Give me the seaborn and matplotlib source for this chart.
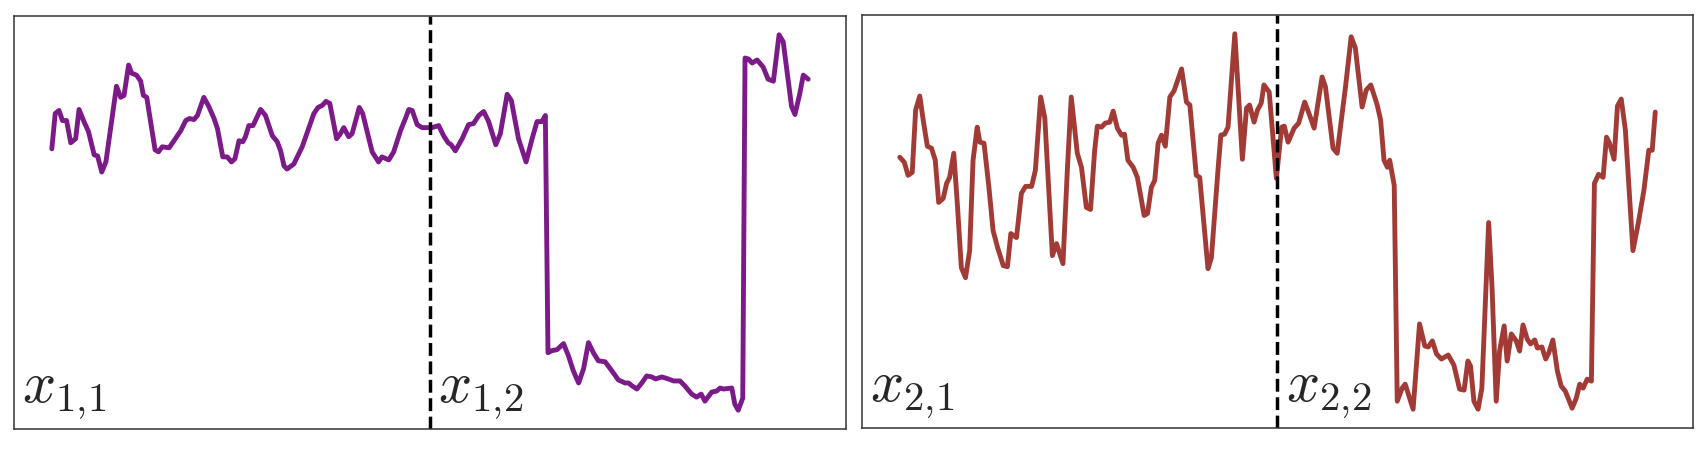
import numpy as np
import pandas as pd
import matplotlib
matplotlib.use("Agg")
import matplotlib.pyplot as plt
import seaborn as sns

# series 1: time / value (x_{1,1} | x_{1,2})
t1 = [0.0, 0.9, 1.9, 2.8, 3.9, 5.0, 6.3, 7.2, 8.5, 9.7, 11.2, 12.1, 13.2, 14.3,
      17.1, 18.2, 19.1, 20.3, 21.1, 22.4, 23.5, 24.2, 25.1, 27.3, 28.2, 29.2,
      31.0, 32.3, 34.1, 35.4, 36.4, 37.6, 38.5, 40.2, 41.5, 42.9, 43.8, 45.2,
      46.4, 47.5, 48.4, 49.5, 50.5, 51.2, 52.1, 53.2, 55.2, 56.5, 58.3, 59.6,
      60.5, 61.4, 62.2, 64.0, 66.2, 69.3, 70.4, 71.5, 72.5, 73.5, 75.3, 76.3,
      77.2, 78.5, 79.4, 81.3, 82.2, 84.7, 86.4, 87.3, 89.1, 90.4, 92.2, 93.5,
      94.4, 95.3, 96.6, 97.9, 99.6, 100.5, 102.3, 103.6, 104.8, 105.6, 106.7,
      108.5, 110.2, 111.5, 112.9, 114.2, 115.5, 117.4, 118.6, 120.4, 121.5,
      123.4, 125.4, 127.0, 128.3, 129.6, 130.5, 131.2, 132.2, 133.6, 135.3,
      136.6, 137.9, 139.3, 140.6, 141.9, 143.2, 144.5, 146.3, 148.1, 149.8,
      151.6, 152.5, 153.5, 154.7, 156.0, 157.3, 158.6, 159.7, 161.3, 163.0,
      164.4, 166.1, 167.4, 169.2, 170.5, 171.7, 172.7, 174.5, 175.8, 176.7,
      177.6, 179.8, 180.6, 181.5, 182.7, 183.3, 184.2, 185.2, 186.5, 188.1,
      189.4, 190.8, 192.3, 193.4, 195.6, 196.5, 197.8, 198.7, 200.0]
v1 = [0.80, 1.15, 1.18, 1.08, 1.08, 0.86, 0.90, 1.19, 1.07, 0.97, 0.74, 0.73,
      0.57, 0.67, 1.42, 1.31, 1.33, 1.63, 1.55, 1.53, 1.47, 1.33, 1.31, 0.79,
      0.77, 0.82, 0.81, 0.88, 0.98, 1.08, 1.10, 1.09, 1.13, 1.31, 1.22, 1.10,
      1.00, 0.72, 0.72, 0.67, 0.70, 0.88, 0.87, 0.92, 1.03, 1.03, 1.19, 1.13,
      0.93, 0.87, 0.78, 0.63, 0.60, 0.65, 0.82, 1.15, 1.21, 1.23, 1.27, 1.25,
      0.90, 0.95, 1.01, 0.92, 0.95, 1.21, 1.15, 0.77, 0.67, 0.72, 0.69, 0.77,
      0.98, 1.10, 1.19, 1.18, 1.04, 1.01, 1.01, 1.01, 1.03, 0.93, 0.86, 0.84,
      0.78, 0.90, 1.04, 1.05, 1.13, 1.17, 1.07, 0.84, 0.95, 1.34, 1.28, 0.90,
      0.67, 0.90, 1.07, 1.07, 1.13, -1.22, -1.20, -1.19, -1.13, -1.25, -1.40,
      -1.52, -1.38, -1.12, -1.22, -1.30, -1.31, -1.40, -1.49, -1.52, -1.52,
      -1.55, -1.58, -1.52, -1.45, -1.46, -1.48, -1.46, -1.48, -1.50, -1.50,
      -1.55, -1.63, -1.66, -1.63, -1.70, -1.61, -1.60, -1.57, -1.58, -1.57,
      -1.73, -1.79, -1.67, 1.70, 1.69, 1.65, 1.68, 1.61, 1.49, 1.47, 1.93,
      1.86, 1.22, 1.14, 1.35, 1.53, 1.49]

# series 2: time / value (x_{2,1} | x_{2,2})
t2 = [0.0, 1.2, 2.2, 3.3, 4.2, 5.3, 6.2, 7.3, 8.4, 9.4, 10.3, 11.5, 12.4, 13.2,
      14.3, 15.3, 16.3, 17.4, 18.5, 19.4, 20.5, 21.2, 22.3, 23.6, 24.7, 25.9,
      27.4, 28.5, 29.4, 30.9, 32.2, 33.3, 34.9, 35.9, 37.3, 38.4, 39.3, 40.4,
      41.5, 43.2, 44.4, 45.4, 47.0, 48.1, 49.4, 50.5, 51.6, 52.3, 53.4, 54.4,
      55.6, 56.5, 57.6, 58.7, 59.5, 60.4, 61.8, 62.9, 64.7, 65.6, 66.6, 67.5,
      68.4, 69.3, 70.3, 71.5, 72.6, 74.6, 75.9, 76.8, 78.5, 79.4, 81.6, 82.5,
      84.3, 85.0, 86.0, 86.9, 88.7, 90.7, 91.8, 92.6, 93.8, 94.7, 95.7, 96.4,
      97.8, 99.7, 101.1, 101.8, 102.8, 104.4, 105.6, 107.2, 108.2, 109.7,
      111.8, 112.7, 114.7, 115.8, 118.0, 119.5, 120.6, 122.4, 123.5, 124.7,
      126.4, 127.3, 128.2, 129.1, 129.7, 130.9, 131.7, 133.0, 133.8, 135.9,
      137.6, 139.0, 139.9, 141.0, 142.1, 143.4, 145.2, 146.7, 148.2, 149.4,
      150.4, 151.1, 152.0, 153.1, 154.1, 155.9, 156.8, 157.9, 158.8, 160.0,
      160.8, 161.9, 163.2, 164.1, 165.0, 166.1, 167.0, 168.1, 168.8, 170.0,
      171.0, 171.8, 172.9, 174.1, 175.1, 176.2, 178.0, 179.1, 180.0, 180.9,
      182.0, 183.1, 183.9, 185.0, 186.2, 187.1, 187.9, 189.1, 190.0, 191.0,
      192.1, 194.1, 195.5, 197.0, 198.3, 199.2, 200.0]
v2 = [0.73, 0.68, 0.55, 0.58, 1.20, 1.34, 1.10, 0.84, 0.82, 0.70, 0.28, 0.32,
      0.47, 0.53, 0.77, 0.23, -0.37, -0.47, -0.20, 0.70, 1.03, 0.88, 0.87,
      0.43, 0.00, -0.17, -0.35, -0.36, -0.03, -0.07, 0.37, 0.44, 0.44, 0.60,
      1.33, 1.12, 0.50, -0.25, -0.13, -0.33, 0.63, 1.33, 0.77, 0.63, 0.23,
      0.21, 0.80, 1.04, 1.03, 1.07, 1.08, 1.19, 1.02, 0.95, 0.96, 0.70, 0.63,
      0.53, 0.15, 0.17, 0.43, 0.50, 0.87, 0.95, 0.84, 1.33, 1.39, 1.61, 1.28,
      1.25, 0.55, 0.53, -0.38, -0.27, 0.63, 0.95, 0.96, 1.03, 1.96, 0.71,
      1.22, 1.25, 1.08, 1.20, 1.27, 1.45, 1.38, 0.52, 1.03, 1.04, 0.88, 1.02,
      1.07, 1.28, 1.18, 1.02, 1.53, 1.43, 0.82, 0.77, 1.43, 1.93, 1.82, 1.23,
      1.40, 1.45, 1.25, 1.10, 0.70, 0.63, 0.70, 0.45, -1.70, -1.57, -1.53,
      -1.78, -0.93, -1.15, -1.16, -1.10, -1.23, -1.28, -1.24, -1.34, -1.58,
      -1.59, -1.30, -1.35, -1.70, -1.78, -1.57, 0.08, -0.57, -1.70, -1.20,
      -0.95, -1.30, -1.03, -1.10, -1.20, -0.94, -1.08, -1.13, -1.09, -1.17,
      -1.16, -1.28, -1.22, -1.09, -1.40, -1.55, -1.60, -1.77, -1.67, -1.53,
      -1.57, -1.48, -1.50, 0.47, 0.56, 0.53, 0.93, 0.87, 0.71, 1.24, 1.31,
      1.00, -0.20, 0.07, 0.40, 0.80, 0.80, 1.18]

split_t = 100
labels1 = [r"$x_{1{,}1}$", r"$x_{1{,}2}$"]
labels2 = [r"$x_{2{,}1}$", r"$x_{2{,}2}$"]
colors = ["#7b1a88", "#a23b35"]

sns.set_style("white")
plt.rcParams["mathtext.fontset"] = "cm"

fig = plt.figure(figsize=(17.06, 4.52), dpi=100)
ax1 = fig.add_axes([14 / 1706, 22 / 452, 832 / 1706, 413 / 452])
ax2 = fig.add_axes([862 / 1706, 23 / 452, 831 / 1706, 413 / 452])

panels = [(ax1, t1, v1, labels1, colors[0]), (ax2, t2, v2, labels2, colors[1])]
for ax, t, v, labels, color in panels:
    df = pd.DataFrame({"t": t, "v": v})
    sns.lineplot(data=df, x="t", y="v", ax=ax, color=color, linewidth=3.5,
                 estimator=None, solid_joinstyle="round",
                 solid_capstyle="round")
    ax.axvline(split_t, color="black", linestyle="--", linewidth=2.5)
    ax.set_xticks([])
    ax.set_yticks([])
    ax.set_xlabel("")
    ax.set_ylabel("")
    for s in ax.spines.values():
        s.set_color("#333333")
        s.set_linewidth(1.1)
    ax.text(0.01, 0.02, labels[0], transform=ax.transAxes, fontsize=42,
            ha="left", va="bottom")
    ax.annotate(labels[1], xy=(split_t, 0.02),
                xycoords=("data", "axes fraction"),
                xytext=(6, 0), textcoords="offset points",
                fontsize=42, ha="left", va="bottom")

fig.savefig("out.png", dpi=100)
